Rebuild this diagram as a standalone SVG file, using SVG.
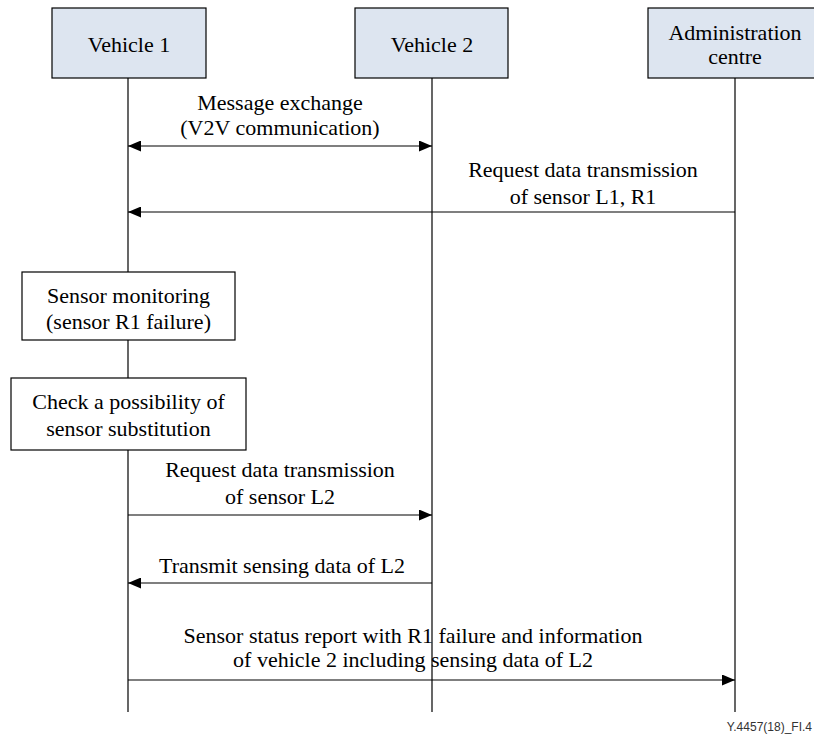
<svg xmlns="http://www.w3.org/2000/svg" width="814" height="735" viewBox="0 0 814 735" font-family="'Liberation Serif', 'Times New Roman', Times, serif">
<style>
text.t{font-size:22px;fill:#000;text-anchor:middle}
.box{fill:#dde5f0;stroke:#000;stroke-width:1.2}
.pbox{fill:#fff;stroke:#000;stroke-width:1.2}
.life{stroke:#000;stroke-width:1.2;fill:none}
.msg{stroke:#000;stroke-width:1.2;fill:none}
.ref{font-size:12px;fill:#333}
</style>
<defs>
<marker id="ah" markerWidth="13" markerHeight="11" refX="13" refY="5.5" orient="auto-start-reverse" markerUnits="userSpaceOnUse">
<path d="M0,0 L13,5.5 L0,11 Z" fill="#000"/>
</marker>
</defs>
<rect width="814" height="735" fill="#fff"/>
<g id="lifelines">
<line class="life" x1="128" y1="78" x2="128" y2="712"/>
<line class="life" x1="432" y1="78" x2="432" y2="712"/>
<line class="life" x1="735" y1="78" x2="735" y2="712"/>
</g>
<g id="vehicle1">
<rect class="box" x="52" y="8" width="154" height="70"/>
<text class="t" x="129" y="52">Vehicle 1</text>
</g>
<g id="vehicle2">
<rect class="box" x="355" y="8" width="153" height="70"/>
<text class="t" x="432" y="52">Vehicle 2</text>
</g>
<g id="admin">
<rect class="box" x="648" y="8" width="172" height="70"/>
<text class="t" x="735" y="40">Administration</text>
<text class="t" x="735" y="64">centre</text>
</g>
<g id="monitoring">
<rect class="pbox" x="22" y="272" width="213" height="68"/>
<text class="t" x="128.5" y="303">Sensor monitoring</text>
<text class="t" x="128.5" y="329">(sensor R1 failure)</text>
</g>
<g id="check">
<rect class="pbox" x="11" y="378" width="235" height="72"/>
<text class="t" x="128.5" y="409">Check a possibility of</text>
<text class="t" x="128.5" y="436">sensor substitution</text>
</g>
<g id="connectors">
<line class="msg" x1="128" y1="146" x2="432" y2="146" marker-start="url(#ah)" marker-end="url(#ah)"/>
<line class="msg" x1="735" y1="212" x2="128" y2="212" marker-end="url(#ah)"/>
<line class="msg" x1="128" y1="515" x2="432" y2="515" marker-end="url(#ah)"/>
<line class="msg" x1="432" y1="583" x2="128" y2="583" marker-end="url(#ah)"/>
<line class="msg" x1="128" y1="680" x2="735" y2="680" marker-end="url(#ah)"/>
<text class="t" x="280" y="110">Message exchange</text>
<text class="t" x="280" y="135">(V2V communication)</text>
<text class="t" x="583" y="177">Request data transmission</text>
<text class="t" x="583" y="204">of sensor L1, R1</text>
<text class="t" x="280" y="477">Request data transmission</text>
<text class="t" x="280" y="504">of sensor L2</text>
<text class="t" x="282" y="573">Transmit sensing data of L2</text>
<text class="t" x="413" y="643">Sensor status report with R1 failure and information</text>
<text class="t" x="413" y="667">of vehicle 2 including sensing data of L2</text>
</g>
<text class="ref" x="812" y="731" text-anchor="end" font-family="'Liberation Sans', Arial, sans-serif">Y.4457(18)_FI.4</text>
</svg>
